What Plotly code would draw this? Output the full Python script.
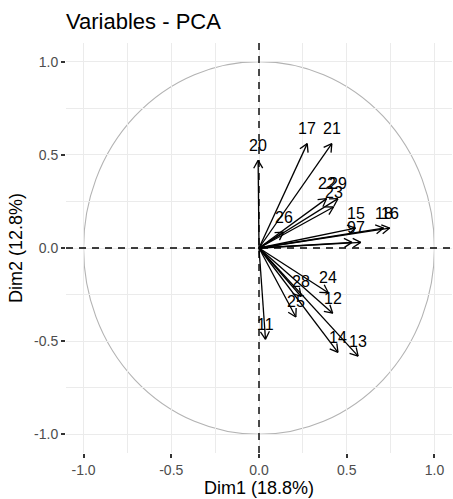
import numpy as np
import plotly.graph_objects as go

# ---- data ----
var_names = ["20", "17", "21", "22", "29", "23", "26", "15", "18", "16",
             "9", "7", "28", "24", "12", "25", "11", "14", "13"]
dim1 = [-0.005, 0.275, 0.415, 0.385, 0.45, 0.425, 0.14, 0.55, 0.71, 0.745,
        0.53, 0.58, 0.24, 0.395, 0.42, 0.21, 0.037, 0.45, 0.565]
dim2 = [0.47, 0.56, 0.56, 0.265, 0.265, 0.22, 0.085, 0.107, 0.107, 0.107,
        0.03, 0.03, -0.26, -0.24, -0.35, -0.37, -0.49, -0.56, -0.58]
tick_vals = [-1.0, -0.5, 0.0, 0.5, 1.0]
title_text = "Variables - PCA"
xlab = "Dim1 (18.8%)"
ylab = "Dim2 (12.8%)"

# ---- layout geometry ----
W, H = 453, 499
ML, MR, MT, MB = 66, 1, 43, 46
XR = [-1.1, 1.1]
YR = [-1.1, 1.1]
sx = (W - ML - MR) / (XR[1] - XR[0])
sy = (H - MT - MB) / (YR[1] - YR[0])

FONT = "Liberation Sans, Arial, Helvetica, sans-serif"

# arrow shafts + open heads
head_len = 9.0
head_ang = np.deg2rad(30)
xs, ys = [], []
for x, y in zip(dim1, dim2):
    xs += [0, x, None]
    ys += [0, y, None]
    th = np.arctan2(y * sy, x * sx)
    for s in (1, -1):
        a = th + np.pi + s * head_ang
        xs.append(x + head_len * np.cos(a) / sx)
        ys.append(y + head_len * np.sin(a) / sy)
        xs.append(x)
        ys.append(y)
        xs.append(None)
        ys.append(None)

fig = go.Figure()
fig.add_trace(go.Scatter(x=xs, y=ys, mode="lines",
                         line=dict(color="black", width=1.3),
                         hoverinfo="skip", showlegend=False))

# correlation circle
fig.add_shape(type="circle", xref="x", yref="y", x0=-1, y0=-1, x1=1, y1=1,
              line=dict(color="#b3b3b3", width=1.1), layer="below")
# dashed zero lines
fig.add_shape(type="line", xref="x", yref="paper", x0=0, x1=0, y0=0, y1=1,
              line=dict(color="black", width=1.4, dash="7px,6px"))
fig.add_shape(type="line", xref="paper", yref="y", x0=0, x1=1, y0=0, y1=0,
              line=dict(color="black", width=1.4, dash="7px,6px"))

# labels
for n, x, y in zip(var_names, dim1, dim2):
    fig.add_annotation(x=x, y=y, text=n, showarrow=False, xanchor="center",
                       yanchor="middle", yshift=15,
                       font=dict(family=FONT, size=16, color="black"))

axis_common = dict(
    tickvals=tick_vals, ticktext=[f"{v:.1f}" for v in tick_vals],
    showgrid=True, gridcolor="#ebebeb", gridwidth=1.3,
    minor=dict(dtick=0.25, tick0=0.25, showgrid=True, gridcolor="#ebebeb",
               gridwidth=0.7, ticks=""),
    zeroline=False, showline=False,
    ticks="outside", ticklen=4, tickwidth=1.5, tickcolor="#333333",
    tickfont=dict(family=FONT, size=14, color="#4d4d4d"),
)

fig.update_layout(
    width=W, height=H,
    margin=dict(l=ML, r=MR, t=MT, b=MB),
    paper_bgcolor="white", plot_bgcolor="white",
    title=dict(text=title_text, x=ML / W, xanchor="left", xref="container",
               y=1 - 21 / H, yanchor="middle", yref="container",
               font=dict(family=FONT, size=22, color="black")),
    xaxis=dict(range=XR, title=dict(text=xlab, standoff=4,
               font=dict(family=FONT, size=18, color="black")), **axis_common),
    yaxis=dict(range=YR, title=dict(text=ylab, standoff=6,
               font=dict(family=FONT, size=18, color="black")), **axis_common),
)

fig.write_html("out.html")
